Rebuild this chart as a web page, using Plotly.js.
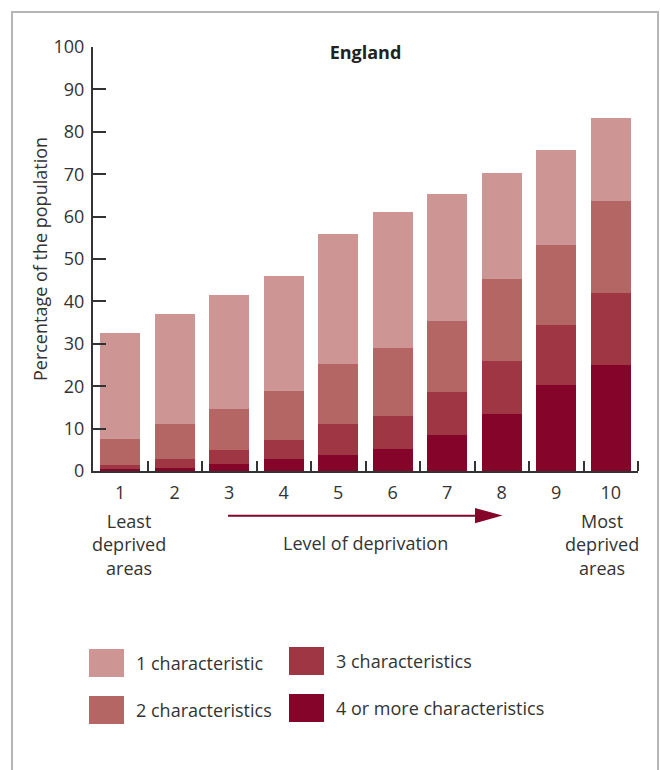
<!DOCTYPE html>
<html>
<head>
<meta charset="utf-8">
<script src="https://cdn.plot.ly/plotly-3.0.1.min.js"></script>
<style>
  html, body { margin: 0; padding: 0; background: #ffffff; }
  #chart { width: 660px; height: 770px; }
</style>
</head>
<body>
<div id="chart"></div>
<script>
// ---- Data (percentage of the population, by deprivation decile) ----
const levels = [1, 2, 3, 4, 5, 6, 7, 8, 9, 10];
const tickLabels = ["1", "2", "3", "4", "5", "6", "7", "8", "9", "10"];
const fourPlus  = [0.4, 0.7, 1.6, 2.8, 3.7, 5.3, 8.4, 13.4, 20.4, 24.9];
const threeChar = [1.0, 2.1, 3.3, 4.4, 7.3, 7.6, 10.2, 12.5, 14.0, 17.2];
const twoChar   = [6.2, 8.2, 9.7, 11.6, 14.2, 16.0, 16.7, 19.5, 18.8, 21.5];
const oneChar   = [24.9, 26.0, 26.8, 27.1, 30.8, 32.1, 30.1, 24.8, 22.6, 19.6];
const seriesNames = ["1 characteristic", "2 characteristics", "3 characteristics", "4 or more characteristics"];
const yTicks = [0, 10, 20, 30, 40, 50, 60, 70, 80, 90, 100];

// ---- Styling ----
const colors = {
  one: "#cd9593",
  two: "#b36664",
  three: "#9e3643",
  four: "#85052a"
};
const FONT = "'Open Sans', 'Noto Sans', sans-serif";
const TXT = "#333333";

// plot-area geometry in px (for decoration placement)
const W = 660, H = 770;
const M = { l: 93, r: 22, t: 47, b: 299 };
const PW = W - M.l - M.r, PH = H - M.t - M.b;
const px = v => (v - M.l) / PW;
const py = v => (H - M.b - v) / PH;

function barTrace(y, name, color) {
  return {
    type: "bar", x: levels, y: y, name: name,
    marker: { color: color, line: { width: 0 } },
    showlegend: false,
    hovertemplate: name + ": %{y}%<extra></extra>"
  };
}

const traces = [
  barTrace(fourPlus, seriesNames[3], colors.four),
  barTrace(threeChar, seriesNames[2], colors.three),
  barTrace(twoChar, seriesNames[1], colors.two),
  barTrace(oneChar, seriesNames[0], colors.one)
];

// custom legend (large swatches)
const legendItems = [
  { name: seriesNames[0], color: colors.one,   x: 89,  y: 649 },
  { name: seriesNames[1], color: colors.two,   x: 89,  y: 696 },
  { name: seriesNames[2], color: colors.three, x: 289, y: 647 },
  { name: seriesNames[3], color: colors.four,  x: 289, y: 694 }
];

const shapes = [
  // outer frame
  { type: "rect", xref: "paper", yref: "paper",
    x0: px(12), x1: px(658), y0: py(12), y1: py(790),
    line: { color: "#b5b5b5", width: 2 }, fillcolor: "rgba(0,0,0,0)", layer: "below" },
  // deprivation arrow shaft
  { type: "line", xref: "paper", yref: "paper",
    x0: px(228), x1: px(480), y0: py(515.7), y1: py(515.7),
    line: { color: colors.four, width: 2 } },
  // arrow head
  { type: "path", xref: "paper", yref: "paper",
    path: "M " + px(475) + "," + py(508) + " L " + px(502.5) + "," + py(515.6) +
          " L " + px(475) + "," + py(523.2) + " Z",
    fillcolor: colors.four, line: { width: 0 } }
];
legendItems.forEach(it => {
  shapes.push({ type: "rect", xref: "paper", yref: "paper",
    x0: px(it.x), x1: px(it.x + 35), y0: py(it.y), y1: py(it.y + 28),
    fillcolor: it.color, line: { width: 0 } });
});

const annotations = [
  { xref: "paper", yref: "paper", x: px(128.5), y: py(544.5), xanchor: "center", yanchor: "middle",
    text: "Least<br>deprived<br>areas", showarrow: false, font: { family: FONT, size: 18, color: TXT } },
  { xref: "paper", yref: "paper", x: px(601.5), y: py(544.5), xanchor: "center", yanchor: "middle",
    text: "Most<br>deprived<br>areas", showarrow: false, font: { family: FONT, size: 18, color: TXT } },
  { xref: "paper", yref: "paper", x: px(365.5), y: py(542.7), xanchor: "center", yanchor: "middle",
    text: "Level of deprivation", showarrow: false, font: { family: FONT, size: 18, color: TXT } }
];
legendItems.forEach(it => {
  annotations.push({ xref: "paper", yref: "paper", x: px(it.x + 45), y: py(it.y + 14),
    xanchor: "left", yanchor: "middle", text: it.name, showarrow: false,
    font: { family: FONT, size: 18, color: TXT } });
});

const layout = {
  width: W, height: H,
  margin: M,
  paper_bgcolor: "#ffffff", plot_bgcolor: "#ffffff",
  font: { family: FONT, size: 18, color: TXT },
  barmode: "stack",
  bargap: 0.266,
  title: {
    text: "<b>England</b>",
    xref: "paper", x: 0.5, xanchor: "center",
    yref: "container", y: 1 - 53 / H, yanchor: "middle",
    font: { family: FONT, size: 18, color: "#222222" }
  },
  xaxis: {
    range: [0.5, 10.5], fixedrange: true,
    tickmode: "array", tickvals: levels, ticktext: tickLabels,
    ticks: "", showgrid: false, zeroline: false,
    showline: true, linecolor: "#333333", linewidth: 2,
    tickfont: { family: FONT, size: 18, color: TXT },
    ticklabelstandoff: 4,
    minor: { tickmode: "array", tickvals: [1.5, 2.5, 3.5, 4.5, 5.5, 6.5, 7.5, 8.5, 9.5, 10.5],
             ticks: "inside", ticklen: 10, tickwidth: 2, tickcolor: "#333333", showgrid: false }
  },
  yaxis: {
    range: [0, 100], fixedrange: true,
    tickmode: "array", tickvals: yTicks,
    ticks: "inside", ticklen: 13, tickwidth: 2, tickcolor: "#333333",
    showgrid: false, zeroline: false,
    showline: true, linecolor: "#333333", linewidth: 2,
    tickfont: { family: FONT, size: 18, color: TXT },
    ticklabelstandoff: 3,
    title: { text: "Percentage of the population", standoff: 1,
             font: { family: FONT, size: 18, color: TXT } }
  },
  shapes: shapes,
  annotations: annotations
};

Plotly.newPlot("chart", traces, layout, { displayModeBar: false, staticPlot: true });
</script>
</body>
</html>
